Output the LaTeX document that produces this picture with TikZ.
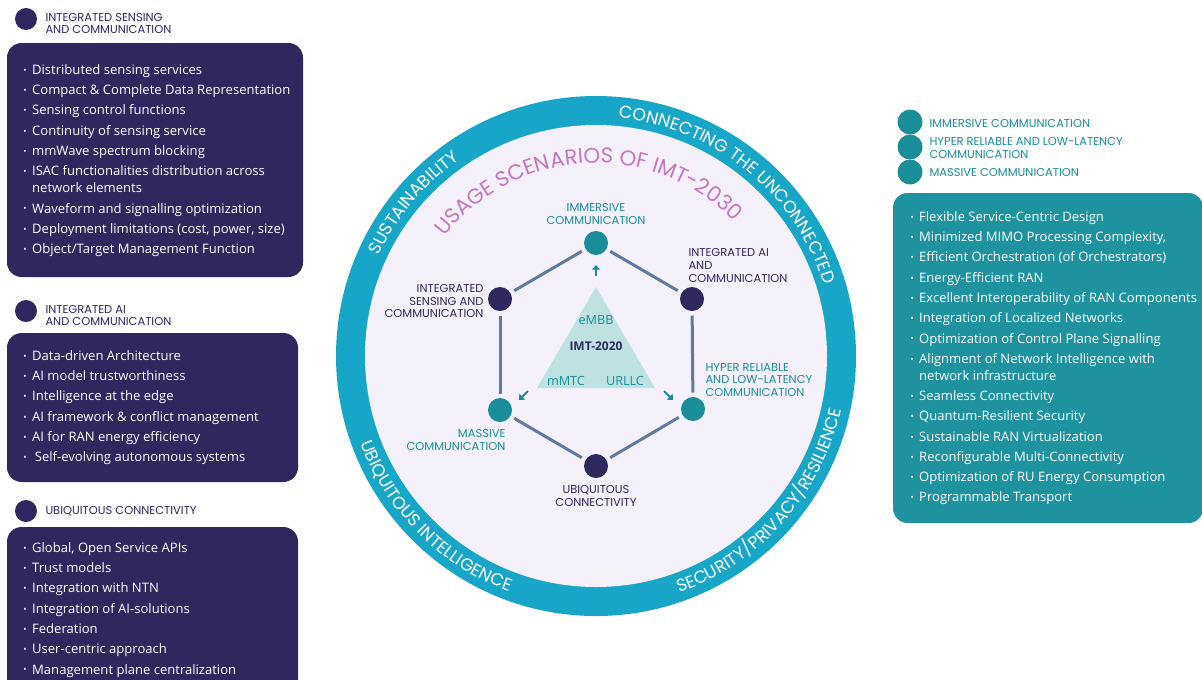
\documentclass[tikz,border=0pt]{standalone}
\usepackage{fontspec}
\setmainfont{Open Sans}
\newfontfamily\capsfont{Poppins}
\usetikzlibrary{arrows.meta,decorations.text}

\definecolor{navy}{RGB}{46,40,94}
\definecolor{tealc}{RGB}{25,141,152}
\definecolor{tealbox}{RGB}{30,146,158}
\definecolor{ringblue}{RGB}{24,166,200}
\definecolor{lavender}{RGB}{245,241,251}
\definecolor{titlepink}{RGB}{196,120,190}
\definecolor{hexgrey}{RGB}{96,122,160}
\definecolor{trifill}{RGB}{190,226,226}

\newcommand{\itm}{\makebox[6.5pt][l]{\fontsize{6.5}{6.5}\selectfont\raisebox{0.8pt}{\textbullet}}}
\newcommand{\itemgap}{2.45pt}

\tikzset{every picture/.style={line width=0.75pt},
  navydot/.style={circle, fill=navy, inner sep=0pt, minimum size=18pt},
  tealdot/.style={circle, fill=tealc, inner sep=0pt, minimum size=18pt},
  headdot/.style={circle, fill=navy, inner sep=0pt, minimum size=16.5pt},
  hexline/.style={draw=hexgrey, line width=2.25pt, shorten <=3pt, shorten >=3pt},
  minarrow/.style={draw=tealc, line width=1.5pt, -{Triangle[length=3.5pt,width=6pt]}},
  lbl/.style={inner sep=0pt, font=\capsfont\fontsize{8.6}{9.6}\selectfont},
  listtext/.style={inner sep=0pt, align=left, text=white, anchor=north west,
    font=\fontsize{9.8}{12.75}\selectfont},
  ringtext/.style={decorate, decoration={text along path, text align=center,
    text={|\capsfont\fontsize{13}{13}\selectfont\color{white}|#1}}},
  titletext/.style={decorate, decoration={text along path, text align=center,
    text={|\capsfont\fontsize{16}{16}\selectfont\color{titlepink}|#1}}}
}

\begin{document}
\begin{tikzpicture}[x=0.75pt,y=0.75pt,yscale=-1,xscale=1]
        \clip (0,0) rectangle (1202,679);
        \fill[white] (0,0) rectangle (1202,679);

        %Shape: Ring and disk
        \fill[ringblue] (596,356) circle [radius=260];
        \fill[lavender] (596,356) circle [radius=231];

        %Curved texts
        \begin{scope}[shift={(596,356)}, yscale=-1]
            \path[ringtext={SUSTAINABILITY}] (175:239) arc [start angle=175, end angle=105, radius=239];
            \path[ringtext={CONNECTING THE UNCONNECTED}] (101:239) arc [start angle=101, end angle=1, radius=239];
            \path[ringtext={SECURITY/PRIVACY/RESILIENCE}] (-96:251) arc [start angle=-96, end angle=13, radius=251];
            \path[ringtext={UBIQUITOUS INTELLIGENCE}] (180:251) arc [start angle=180, end angle=270, radius=251];
            \path[titletext={USAGE SCENARIOS OF IMT-2030}] (160:193) arc [start angle=160, end angle=26, radius=193];
        \end{scope}

        %Shape: Triangle
        \fill[trifill] (537,388) -- (655,388) -- (596,287) -- cycle;

        %Hexagon nodes
        \node[tealdot] (imm) at (596,243) {};
        \node[navydot] (ai) at (692,299) {};
        \node[tealdot] (hrllc) at (693,409) {};
        \node[navydot] (ubi) at (596,466) {};
        \node[tealdot] (mass) at (500,410) {};
        \node[navydot] (isac) at (500,299) {};

        %Straight Lines
        \foreach \a/\b in {imm/ai, ai/hrllc, hrllc/ubi, ubi/mass, mass/isac, isac/imm}
            \draw[hexline] (\a) -- (\b);

        %Small arrows
        \coordinate (uptail) at (596,276);
        \coordinate (uphead) at (596,265);
        \coordinate (lltail) at (528,391);
        \coordinate (llhead) at (519,400);
        \coordinate (lrtail) at (664,391);
        \coordinate (lrhead) at (673,400);
        \draw[minarrow] (uptail) -- (uphead);
        \draw[minarrow] (lltail) -- (llhead);
        \draw[minarrow] (lrtail) -- (lrhead);

        % Text Node
        \node[text=tealc, font=\fontsize{9.5}{10}\selectfont] (embb) at (596,320) {eMBB};
        \node[text=navy, font=\bfseries\fontsize{9}{10}\selectfont] (imt) at (596,346) {IMT-2020};
        \node[text=tealc, font=\fontsize{9.5}{10}\selectfont] (mmtc) at (566,381) {mMTC};
        \node[text=tealc, font=\fontsize{9.5}{10}\selectfont] (urllc) at (625,381) {URLLC};

        % Text Node
        \node[lbl, text=tealc, align=center, anchor=south] (immlbl) at (596,225) {IMMERSIVE\\COMMUNICATION};
        \node[lbl, text=navy, align=left, anchor=south west] (ailbl) at (688,283) {INTEGRATED AI\\AND\\COMMUNICATION};
        \node[lbl, text=navy, align=right, anchor=east] (isaclbl) at (484,301) {INTEGRATED\\SENSING AND\\COMMUNICATION};
        \node[lbl, text=tealc, align=left, anchor=west] (hrllclbl) at (705,380) {HYPER RELIABLE\\AND LOW-LATENCY\\COMMUNICATION};
        \node[lbl, text=tealc, align=right, anchor=east] (masslbl) at (506,440) {MASSIVE\\COMMUNICATION};
        \node[lbl, text=navy, align=center] (ubilbl) at (596,496) {UBIQUITOUS\\CONNECTIVITY};

        %Left headers
        \node[headdot] (isachd) at (26,19) {};
        \node[lbl, text=navy, align=left, anchor=west] (isachdlbl) at (45,23.5) {INTEGRATED SENSING\\AND COMMUNICATION};
        \node[headdot] (aihd) at (26,311) {};
        \node[lbl, text=navy, align=left, anchor=west] (aihdlbl) at (45,315.5) {INTEGRATED AI\\AND COMMUNICATION};
        \node[headdot] (ubihd) at (26,511) {};
        \node[lbl, text=navy, anchor=west] (ubihdlbl) at (45,511) {UBIQUITOUS CONNECTIVITY};

        %Left boxes
        \fill[navy, rounded corners=11pt] (7,43) rectangle (303,277);
        \fill[navy, rounded corners=11pt] (7,333) rectangle (298,482);
        \fill[navy, rounded corners=11pt] (7,527) rectangle (298,710);

        % Text Node
        \node[listtext] (isaclist) at (23,64) {\itm Distributed sensing services\\[\itemgap]
            \itm Compact \& Complete Data Representation\\[\itemgap]
            \itm Sensing control functions\\[\itemgap]
            \itm Continuity of sensing service\\[\itemgap]
            \itm mmWave spectrum blocking\\[\itemgap]
            \itm ISAC functionalities distribution across\\
            \hspace*{6.5pt}network elements\\[\itemgap]
            \itm Waveform and signalling optimization\\[\itemgap]
            \itm Deployment limitations (cost, power, size)\\[\itemgap]
            \itm Object/Target Management Function};
        % Text Node
        \node[listtext] (ailist) at (23,350) {\itm Data-driven Architecture\\[\itemgap]
            \itm AI model trustworthiness\\[\itemgap]
            \itm Intelligence at the edge\\[\itemgap]
            \itm AI framework \& conflict management\\[\itemgap]
            \itm AI for RAN energy efficiency\\[\itemgap]
            \itm\hspace*{2pt}Self-evolving autonomous systems};
        % Text Node
        \node[listtext] (ubilist) at (23,542) {\itm Global, Open Service APIs\\[\itemgap]
            \itm Trust models\\[\itemgap]
            \itm Integration with NTN\\[\itemgap]
            \itm Integration of AI-solutions\\[\itemgap]
            \itm Federation\\[\itemgap]
            \itm User-centric approach\\[\itemgap]
            \itm Management plane centralization};

        %Right legend
        \node[tealdot, minimum size=18.75pt] (immhd) at (910,122) {};
        \node[tealdot, minimum size=18.75pt] (hrllchd) at (910,147) {};
        \node[tealdot, minimum size=18.75pt] (masshd) at (910,172) {};
        \node[lbl, text=tealc, anchor=west] (immhdlbl) at (929,123) {IMMERSIVE COMMUNICATION};
        \node[lbl, text=tealc, align=left, anchor=west] (hrllchdlbl) at (929,148) {HYPER RELIABLE AND LOW-LATENCY\\COMMUNICATION};
        \node[lbl, text=tealc, anchor=west] (masshdlbl) at (929,172) {MASSIVE COMMUNICATION};

        %Right box
        \fill[tealbox, rounded corners=11pt] (893,193) rectangle (1203,523);
        % Text Node
        \node[listtext] (reqlist) at (910,211) {\itm Flexible Service-Centric Design\\[\itemgap]
            \itm Minimized MIMO Processing Complexity,\\[\itemgap]
            \itm Efficient Orchestration (of Orchestrators)\\[\itemgap]
            \itm Energy-Efficient RAN\\[\itemgap]
            \itm Excellent Interoperability of RAN Components\\[\itemgap]
            \itm Integration of Localized Networks\\[\itemgap]
            \itm Optimization of Control Plane Signalling\\[\itemgap]
            \itm Alignment of Network Intelligence with\\
            \hspace*{6.5pt}network infrastructure\\[\itemgap]
            \itm Seamless Connectivity\\[\itemgap]
            \itm Quantum-Resilient Security\\[\itemgap]
            \itm Sustainable RAN Virtualization\\[\itemgap]
            \itm Reconfigurable Multi-Connectivity\\[\itemgap]
            \itm Optimization of RU Energy Consumption\\[\itemgap]
            \itm Programmable Transport};

    \end{tikzpicture}
\end{document}
